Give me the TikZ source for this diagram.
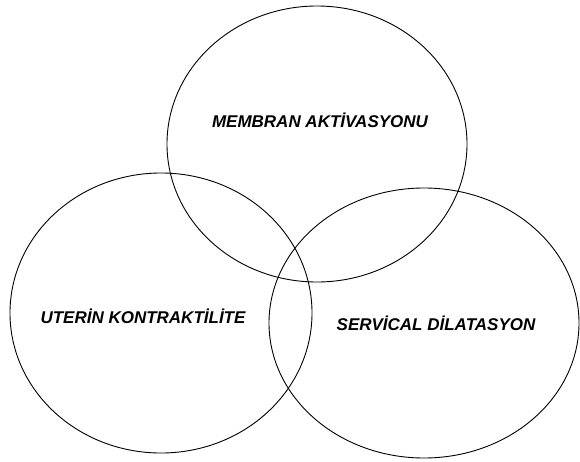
\documentclass[tikz,border=0pt]{standalone}
\usepackage{fontspec}
\setmainfont{Liberation Sans}
\begin{document}
\begin{tikzpicture}[x=1pt,y=-1pt,
  setcircle/.style={draw=black,line width=0.9pt},
  setlabel/.style={font=\fontsize{17}{19}\selectfont\bfseries\itshape,inner sep=0pt}]
\useasboundingbox (0,0) rectangle (580,461);
\draw[setcircle] (317,144) ellipse [x radius=150, y radius=138];
\draw[setcircle] (161,313) ellipse [x radius=151, y radius=140];
\draw[setcircle] (424,323) ellipse [x radius=155, y radius=135];
\node[setlabel] (membran) at (320,120) {MEMBRAN AKT\.{I}VASYONU};
\node[setlabel] (uterin) at (143,316) {UTER\.{I}N KONTRAKT\.{I}L\.{I}TE};
\node[setlabel] (servical) at (436,323) {SERV\.{I}CAL D\.{I}LATASYON};
\end{tikzpicture}
\end{document}
